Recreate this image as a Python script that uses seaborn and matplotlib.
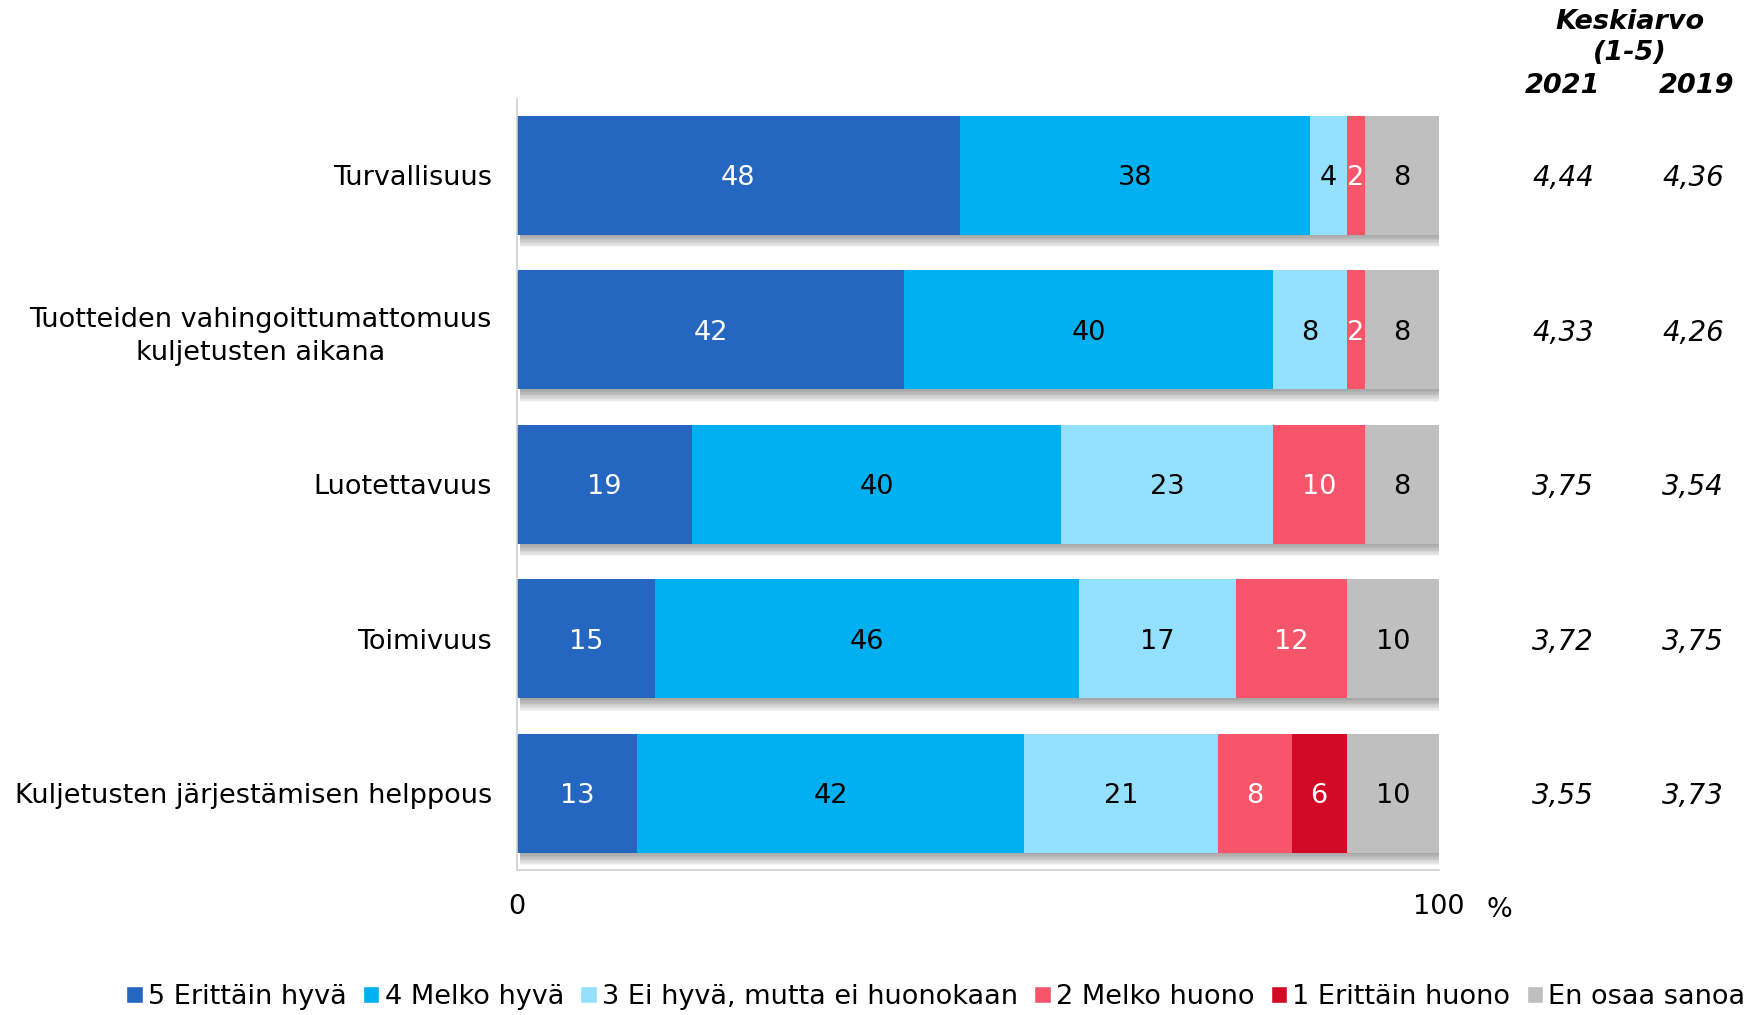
import pandas as pd
import matplotlib
matplotlib.use("Agg")
import matplotlib.pyplot as plt
import matplotlib.patheffects as pe
from matplotlib.patches import Patch
import seaborn as sns

# Data
categories = [
    "Turvallisuus",
    "Tuotteiden vahingoittumattomuus\nkuljetusten aikana",
    "Luotettavuus",
    "Toimivuus",
    "Kuljetusten järjestämisen helppous",
]
series = ["5 Erittäin hyvä", "4 Melko hyvä", "3 Ei hyvä, mutta ei huonokaan",
          "2 Melko huono", "1 Erittäin huono", "En osaa sanoa"]
v5 = [48, 42, 19, 15, 13]
v4 = [38, 40, 40, 46, 42]
v3 = [4, 8, 23, 17, 21]
v2 = [2, 2, 10, 12, 8]
v1 = [0, 0, 0, 0, 6]
v_eos = [8, 8, 8, 10, 10]
avg_2021 = ["4,44", "4,33", "3,75", "3,72", "3,55"]
avg_2019 = ["4,36", "4,26", "3,54", "3,75", "3,73"]

colors = ["#2566C0", "#00B0F0", "#93E1FF", "#F7566A", "#D20A26", "#BFBFBF"]
label_colors = ["white", "black", "black", "white", "white", "black"]

sns.set_style("white")
plt.rcParams["font.family"] = ["DejaVu Sans"]
plt.rcParams["text.color"] = "black"
plt.rcParams["xtick.color"] = "black"
plt.rcParams["ytick.color"] = "black"

df = pd.DataFrame({"cat": categories})
values = [v5, v4, v3, v2, v1, v_eos]
cum = [0] * len(categories)
for name, vals in zip(series, values):
    cum = [c + v for c, v in zip(cum, vals)]
    df[name] = cum

fig = plt.figure(figsize=(17.56, 10.15), dpi=100)
ax = fig.add_axes([0.2944, 0.1429, 0.5251, 0.7596])

# Stacked bars: draw cumulative totals, largest first
for i in reversed(range(len(series))):
    n_before = len(ax.patches)
    sns.barplot(data=df, x=series[i], y="cat", color=colors[i], orient="h",
                width=0.77, saturation=1, ax=ax, linewidth=0)
    if i == len(series) - 1:
        shadow = [pe.SimplePatchShadow(offset=(2, -k), shadow_rgbFace="black", alpha=0.045)
                  for k in range(1, 10)] + [pe.Normal()]
        for p in ax.patches[n_before:]:
            p.set_path_effects(shadow)

# Segment labels
for j in range(len(categories)):
    start = 0
    for i, vals in enumerate(values):
        v = vals[j]
        if v > 0:
            ax.text(start + v / 2, j, str(v), ha="center", va="center_baseline",
                    fontsize=19.5, color=label_colors[i])
        start += v

ax.set_xlim(0, 100)
ax.set_ylim(4.495, -0.495)
ax.set_xticks([0, 100])
ax.set_xticklabels(["0", "100"])
ax.set_xlabel("")
ax.set_ylabel("")
ax.tick_params(axis="x", length=0, pad=17, labelsize=19.5)
ax.tick_params(axis="y", length=0, pad=18, labelsize=19.5)
for lab in ax.get_yticklabels():
    lab.set_multialignment("center")
    lab.set_linespacing(1.35)
for s in ["top", "right"]:
    ax.spines[s].set_visible(False)
for s in ["left", "bottom"]:
    ax.spines[s].set_color("#D0D0D0")
    ax.spines[s].set_linewidth(1.2)
ax.text(1.065, -0.052, "%", transform=ax.transAxes, ha="center", va="center", fontsize=19.5)

# Averages
tr = ax.get_yaxis_transform()
for j in range(len(categories)):
    ax.text(1.1345, j, avg_2021[j], transform=tr, ha="center", va="center_baseline",
            fontsize=20, style="italic", clip_on=False)
    ax.text(1.2755, j, avg_2019[j], transform=tr, ha="center", va="center_baseline",
            fontsize=20, style="italic", clip_on=False)

hdr = dict(ha="center", va="center", fontsize=19.5, fontweight="heavy", style="italic")
fig.text(0.928, 0.978, "Keskiarvo", **hdr)
fig.text(0.928, 0.948, "(1-5)", **hdr)
fig.text(0.890, 0.915, "2021", **hdr)
fig.text(0.966, 0.915, "2019", **hdr)

handles = [Patch(facecolor=c, label=s) for c, s in zip(colors, series)]
fig.legend(handles=handles, loc="center", bbox_to_anchor=(0.533, 0.018), ncol=6,
           frameon=False, fontsize=19.5, handlelength=0.6, handleheight=0.6,
           handletextpad=0.2, columnspacing=0.6, borderaxespad=0)

fig.savefig("out.png", dpi=100)
